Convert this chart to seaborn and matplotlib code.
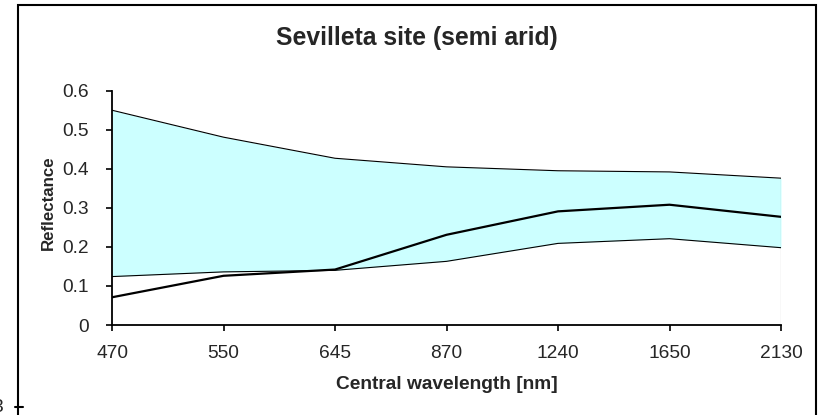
import matplotlib
matplotlib.use("Agg")
import matplotlib.pyplot as plt
import matplotlib.patches as patches
import seaborn as sns
import pandas as pd
import numpy as np

# band centres (categorical axis) and reflectance envelope for the site
wavelengths = ["470", "550", "645", "870", "1240", "1650", "2130"]
upper = [0.550, 0.481, 0.427, 0.405, 0.395, 0.392, 0.376]
lower = [0.124, 0.136, 0.140, 0.163, 0.209, 0.221, 0.198]
site_mean = [0.071, 0.126, 0.142, 0.231, 0.291, 0.308, 0.277]

y_ticks = [0, 0.1, 0.2, 0.3, 0.4, 0.5, 0.6]
y_tick_labels = ["0", "0.1", "0.2", "0.3", "0.4", "0.5", "0.6"]

TITLE = "Sevilleta site (semi arid)"
X_LABEL = "Central wavelength [nm]"
Y_LABEL = "Reflectance"

FILL_COLOR = "#CCFFFF"
W, H = 819, 415


def build_frame():
    df = pd.DataFrame({
        "wavelength": wavelengths,
        "upper": upper,
        "lower": lower,
        "mean": site_mean,
    })
    df["pos"] = np.arange(len(df))
    return df


def plot_envelope(df):
    sns.set_style("white")
    plt.rcParams["font.family"] = ["Liberation Sans", "DejaVu Sans"]

    fig = plt.figure(figsize=(W / 100, H / 100), dpi=100)
    ax = fig.add_axes([112 / W, 1 - 325 / H, (781 - 112) / W, (325 - 90.7) / H])

    ax.fill_between(df["pos"], df["lower"], df["upper"], color=FILL_COLOR, lw=0, zorder=1)
    # grey right edge of the area series
    ax.vlines(df["pos"].iloc[-1], 0, df["upper"].iloc[-1], color="#808080", lw=0.8, zorder=2)

    sns.lineplot(data=df, x="pos", y="upper", ax=ax, color="black", lw=0.8, zorder=3)
    sns.lineplot(data=df, x="pos", y="lower", ax=ax, color="black", lw=0.8, zorder=3)
    sns.lineplot(data=df, x="pos", y="mean", ax=ax, color="black", lw=1.6, zorder=4)

    ax.set_xlim(0, len(df) - 1)
    ax.set_ylim(0, 0.6)
    ax.set_xticks(df["pos"])
    ax.set_xticklabels(df["wavelength"])
    ax.set_yticks(y_ticks)
    ax.set_yticklabels(y_tick_labels)

    for side in ["top", "right"]:
        ax.spines[side].set_visible(False)
    for side in ["left", "bottom"]:
        ax.spines[side].set_linewidth(1.3)
        ax.spines[side].set_color("black")

    ax.tick_params(axis="y", direction="out", length=4, width=1.2, pad=13,
                   labelsize=13.8, left=True, color="black")
    ax.tick_params(axis="x", direction="out", length=4.5, width=1.2, pad=10,
                   labelsize=13.8, bottom=True, color="black")

    ax.set_xlabel(X_LABEL, fontsize=13.8, fontweight="bold")
    ax.xaxis.set_label_coords(0.5, (325 - 384) / (325 - 90.7))
    ax.xaxis.label.set_va("center")
    ax.set_ylabel(Y_LABEL, fontsize=12.2, fontweight="bold")
    ax.yaxis.set_label_coords((48 - 112) / 669, (325 - 203) / (325 - 90.7))
    ax.yaxis.label.set_va("center")

    fig.text(417 / W, 1 - 38 / H, TITLE, ha="center", va="center",
             fontsize=17.8, fontweight="bold")

    # chart frame (bottom edge runs past the picture)
    frame = patches.Rectangle((18 / W, -0.1), (816 - 18) / W, 1.1 - 5 / H,
                              transform=fig.transFigure, fill=False,
                              lw=1.5, edgecolor="black", clip_on=False)
    fig.patches.append(frame)

    # cut-off remains of the neighbouring chart at the lower left
    fig.text(3 / W, 1 - 407 / H, "3", ha="right", va="center", fontsize=13.8)
    fig.add_artist(plt.Line2D([15 / W, 23 / W], [1 - 407 / H, 1 - 407 / H],
                              transform=fig.transFigure, color="black", lw=1.5))

    fig.savefig("out.png", dpi=100)
    plt.close(fig)


if __name__ == "__main__":
    plot_envelope(build_frame())
